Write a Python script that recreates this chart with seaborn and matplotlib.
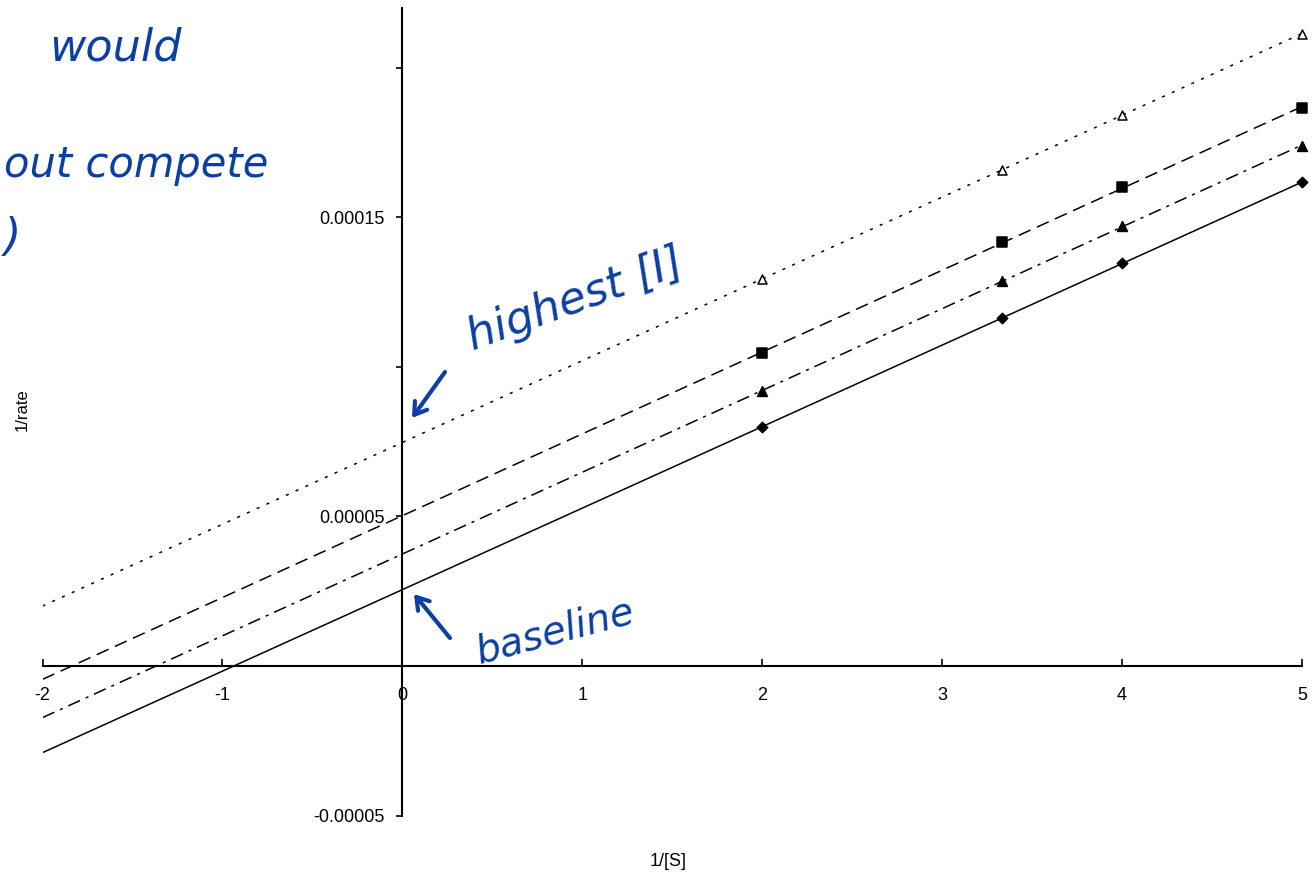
import numpy as np
import pandas as pd
import matplotlib
matplotlib.use("Agg")
import matplotlib.pyplot as plt
import seaborn as sns

# ----------------------------------------------------------
# Data
# ----------------------------------------------------------

inv_s = [2.0, 3.333, 4.0, 5.0]

inv_rate_baseline = [8.0e-5, 1.163e-4, 1.347e-4, 1.617e-4]
inv_rate_low = [9.2e-5, 1.287e-4, 1.47e-4, 1.74e-4]
inv_rate_mid = [1.047e-4, 1.417e-4, 1.6e-4, 1.867e-4]
inv_rate_high = [1.293e-4, 1.66e-4, 1.843e-4, 2.113e-4]

x_ticks = [-2, -1, 0, 1, 2, 3, 4, 5]
y_ticks = [-0.00005, 0, 0.00005, 0.0001, 0.00015, 0.0002]
y_tick_labels = ["-0.00005", "", "0.00005", "", "0.00015", ""]

# ----------------------------------------------------------
# Style
# ----------------------------------------------------------

sns.set_theme(style="white")
plt.rcParams["font.family"] = ["Liberation Sans", "DejaVu Sans"]
plt.rcParams["text.color"] = "black"

W, H = 1314, 875
fig = plt.figure(figsize=(W / 100, H / 100), dpi=100)
ax = fig.add_axes([42.5 / W, 1 - 815.5 / H, (1302 - 42.5) / W, (815.5 - 8) / H])

xmin, xmax = -2, 5
ax.set_xlim(xmin, xmax)
ax.set_ylim(-0.00005, 0.00022)

# ----------------------------------------------------------
# Series: trendlines + markers
# ----------------------------------------------------------

series = [
    (inv_rate_baseline, "-", "D", "black", 28),
    (inv_rate_low, (0, (8.5, 4, 2, 4)), "^", "black", 50),
    (inv_rate_mid, (0, (8.5, 4.5)), "s", "black", 48),
    (inv_rate_high, (0, (2, 5)), "^", "white", 42),
]

x_fit = np.array([xmin, xmax], dtype=float)
for ys, ls, mk, face, size in series:
    slope, icept = np.polyfit(inv_s, ys, 1)
    fit = pd.DataFrame({"x": x_fit, "y": slope * x_fit + icept})
    sns.lineplot(data=fit, x="x", y="y", ax=ax, color="black",
                 linewidth=1.1, linestyle=ls, zorder=2)
    sns.scatterplot(x=inv_s, y=ys, ax=ax, marker=mk, s=size, color=face,
                    edgecolor="black", linewidth=1.1, zorder=3, clip_on=False)

# ----------------------------------------------------------
# Axes through the origin
# ----------------------------------------------------------

for side in ["top", "right"]:
    ax.spines[side].set_visible(False)
ax.spines["left"].set_position(("data", 0))
ax.spines["bottom"].set_position(("data", 0))
for side in ["left", "bottom"]:
    ax.spines[side].set_color("black")
    ax.spines[side].set_linewidth(1.5)
    ax.spines[side].set_zorder(1)

ax.set_xticks(x_ticks)
ax.set_xticklabels([str(t) for t in x_ticks])
ax.set_yticks(y_ticks)
ax.set_yticklabels(y_tick_labels)

ax.tick_params(axis="x", direction="in", length=5, width=1.2, color="black",
               pad=15, labelsize=13, labelcolor="black", bottom=True)
ax.tick_params(axis="y", direction="out", length=4, width=1.2, color="black",
               pad=9, labelsize=13, labelcolor="black", left=True)

ax.set_xlabel("")
ax.set_ylabel("")
fig.text(668 / W, 1 - 862 / H, "1/[S]", ha="center", va="center", fontsize=13)
fig.text(22 / W, 1 - 410 / H, "1/rate", ha="center", va="center",
         fontsize=12, rotation=90)

# ----------------------------------------------------------
# Handwritten notes
# ----------------------------------------------------------

ink = "#0b3fa5"

def fp(x, y):
    return (x / W, 1 - y / H)

note = dict(color=ink, fontsize=32, style="italic", ha="center",
            va="center", family=["DejaVu Sans"])

fig.text(*fp(115, 48), "would", **note)
fig.text(*fp(4, 165), "out compete", **{**note, "ha": "left", "fontsize": 30})
fig.text(*fp(4, 238), ")", **{**note, "ha": "left"})
fig.text(*fp(575, 300), "highest [I]", rotation=20, **note)
fig.text(*fp(555, 632), "baseline", rotation=15, **{**note, "fontsize": 28})

arrow = dict(arrowstyle="->,head_length=0.7,head_width=0.45",
             color=ink, lw=3, shrinkA=0, shrinkB=0)
ax.annotate("", xy=fp(412, 418), xytext=fp(445, 372),
            xycoords="figure fraction", textcoords="figure fraction",
            arrowprops=arrow)
ax.annotate("", xy=fp(414, 594), xytext=fp(450, 638),
            xycoords="figure fraction", textcoords="figure fraction",
            arrowprops=arrow)

plt.savefig("out.png", dpi=100)
plt.close()
